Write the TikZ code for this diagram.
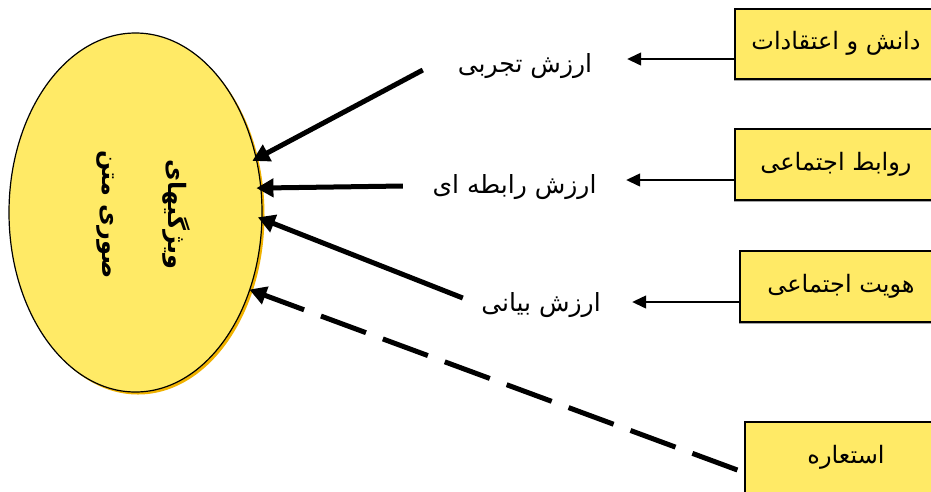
\documentclass[tikz,border=0pt]{standalone}
\usepackage{fontspec}
\newfontfamily\arabicfont[Script=Arabic]{DejaVu Sans}
\TeXXeTstate=1
\usetikzlibrary{shapes.geometric,arrows.meta,shadows}
\definecolor{fillyellow}{RGB}{255,234,102}
\definecolor{shadoworange}{RGB}{240,178,0}
\newcommand\rtltext[1]{\beginR #1\endR}
\begin{document}
\begin{tikzpicture}[x=1pt,y=-1pt,
  lbl/.style={font=\arabicfont\fontsize{25}{28}\selectfont, inner sep=0pt, text height=19pt, text depth=8pt},
  box/.style={draw, line width=1.2pt, fill=fillyellow, inner sep=0pt, minimum width=202pt,
    font=\arabicfont\fontsize{24}{28}\selectfont, text height=19pt, text depth=8pt,
    drop shadow={shadow xshift=-1.5pt, shadow yshift=-1.5pt, fill=black!35, opacity=1}},
  thickarr/.style={line width=5pt, -{Triangle[length=17pt,width=18pt]}, shorten >=-5pt},
  thinarr/.style={line width=1.3pt, -{Triangle[length=14pt,width=13pt]}}]
\useasboundingbox (0,0) rectangle (931,491);
\clip (0,0) rectangle (931,491);
% ellipse
\node[ellipse, draw, line width=1.2pt, fill=fillyellow, minimum width=253pt, minimum height=359pt,
  inner sep=0pt, drop shadow={shadow xshift=2.5pt, shadow yshift=-2.5pt, fill=shadoworange, opacity=1}]
  (e) at (135.5,212.5) {};
\node[rotate=-90, align=center, font=\arabicfont\bfseries\fontsize{24}{66}\selectfont]
  (et) at ([xshift=8pt,yshift=-2pt]e.center) {\rtltext{ویژگیهای}\\\rtltext{صوری متن}};
% labels
\node[lbl, minimum width=204pt] (l1) at (525,66.5) {\rtltext{ارزش تجربی}};
\node[lbl, minimum width=223pt] (l2) at (514.5,187.5) {\rtltext{ارزش رابطه ای}};
\node[lbl, minimum width=182pt] (l3) at (541,305.5) {\rtltext{ارزش بیانی}};
% boxes
\node[box, minimum height=70pt] (b1) at (836,44) {\rtltext{دانش و اعتقادات}};
\node[box, minimum height=71pt] (b2) at (836,164.5) {\rtltext{روابط اجتماعی}};
\node[box, minimum height=71pt] (b3) at (841,286.5) {\rtltext{هویت اجتماعی}};
\node[box, minimum height=71pt] (b4) at (846,457.5) {\rtltext{استعاره}};
% tips of thin arrows
\coordinate (t1) at ([yshift=7.5pt]l1.east);
\coordinate (t2) at ([yshift=7.5pt]l2.east);
\coordinate (t3) at ([yshift=3.5pt]l3.east);
\draw[thinarr] (b1.west |- t1) -- (t1);
\draw[thinarr] (b2.west |- t2) -- (t2);
\draw[thinarr] (b3.west |- t3) -- (t3);
% thick arrows
\draw[thickarr] ([yshift=-3.5pt]l1.west) -- (e.24);
\draw[thickarr] ([yshift=1.5pt]l2.west) -- (e.11);
\draw[thickarr] ([xshift=13pt,yshift=7.5pt]l3.west) -- (e.-3);
\draw[thickarr, shorten >=-1pt, dash pattern=on 48pt off 18pt] ([xshift=-7pt,yshift=-12.5pt]b4.west) -- (e.-34);
\end{tikzpicture}
\end{document}
